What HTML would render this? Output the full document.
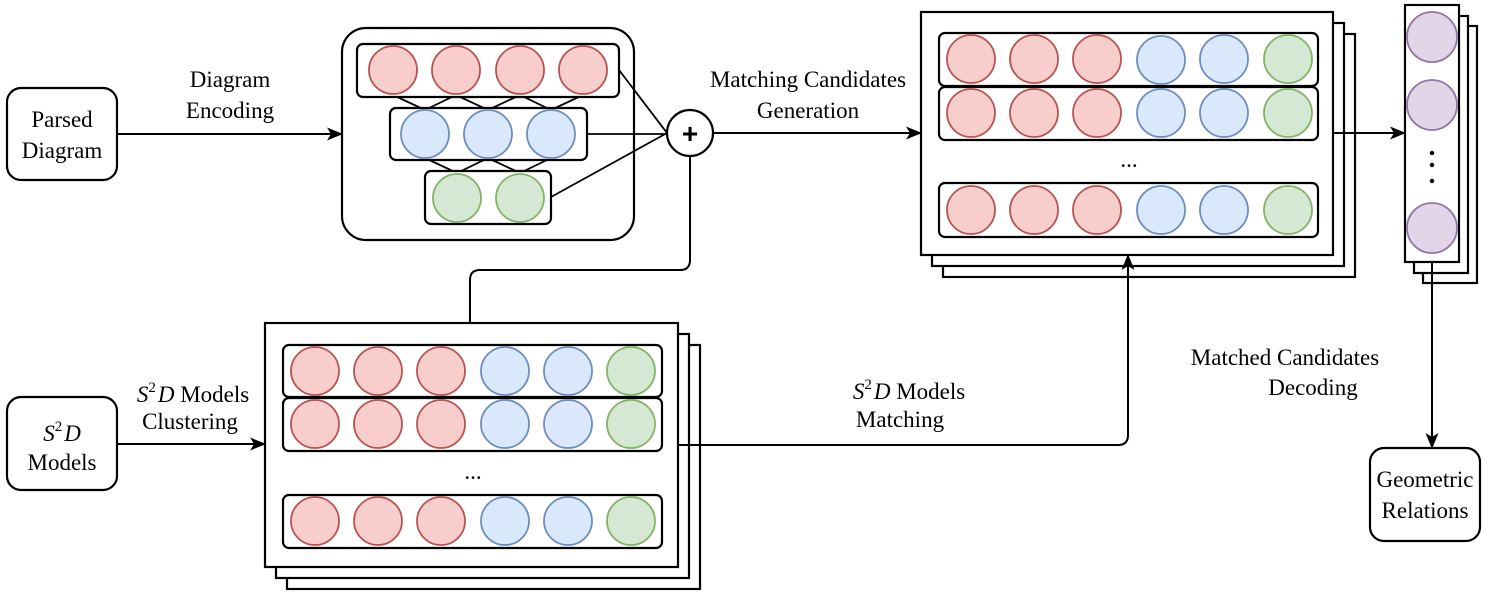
<!DOCTYPE html>
<html><head><meta charset="utf-8"><style>
html,body{margin:0;padding:0;background:#fff;width:1500px;height:595px;overflow:hidden}
text{font-family:"Liberation Serif",serif;font-size:23px;fill:#000}
.r{fill:#f8cecc;stroke:#b85450;stroke-width:1.8}
.b{fill:#dae8fc;stroke:#6c8ebf;stroke-width:1.8}
.g{fill:#d5e8d4;stroke:#82b366;stroke-width:1.8}
.p{fill:#e1d5e7;stroke:#9673a6;stroke-width:1.8}
.bx{fill:#fff;stroke:#000;stroke-width:2.2}
.ln{fill:none;stroke:#000;stroke-width:2}
</style></head><body>
<svg width="1500" height="595" viewBox="0 0 1500 595" xmlns="http://www.w3.org/2000/svg">
<defs><marker id="a" markerWidth="16" markerHeight="13" refX="15" refY="6.5" orient="auto" markerUnits="userSpaceOnUse"><path d="M0,0 L16,6.5 L0,13 L4,6.5 z" fill="#000"/></marker></defs>

<rect x="7" y="88" width="110" height="92" rx="14" class="bx"/>
<text x="62" y="127" text-anchor="middle">Parsed</text>
<text x="62" y="158" text-anchor="middle">Diagram</text>
<line x1="117" y1="134" x2="342" y2="134" class="ln" marker-end="url(#a)"/>
<text x="230" y="87" text-anchor="middle">Diagram</text>
<text x="230" y="118" text-anchor="middle">Encoding</text>

<rect x="342" y="28" width="292" height="212" rx="24" class="bx"/>
<g class="ln" style="stroke-width:1.8">
<path d="M393,95 L425,110 L456,95 L488,110 L520,95 L551,110 L583,95"/>
<path d="M425,158 L457,173 L488,158 L520,173 L551,158"/>
<path d="M619,70 L667,133 M587,134 L667,134 M551,197 L667,133"/>
</g>
<rect x="357" y="44" width="262" height="53" rx="6" class="bx"/>
<circle cx="393" cy="70" r="24" class="r"/><circle cx="456" cy="70" r="24" class="r"/><circle cx="520" cy="70" r="24" class="r"/><circle cx="583" cy="70" r="24" class="r"/>
<rect x="390" y="108" width="197" height="52" rx="6" class="bx"/>
<circle cx="425" cy="134" r="24" class="b"/><circle cx="488" cy="134" r="24" class="b"/><circle cx="551" cy="134" r="24" class="b"/>
<rect x="425" y="171" width="126" height="53" rx="6" class="bx"/>
<circle cx="457" cy="198" r="24" class="g"/><circle cx="520" cy="198" r="24" class="g"/>

<circle cx="690" cy="133" r="23" class="bx"/>
<text x="690" y="143" text-anchor="middle" style="font-family:'Liberation Sans',sans-serif;font-size:28px;font-weight:bold">+</text>
<line x1="713" y1="133" x2="921" y2="133" class="ln" marker-end="url(#a)"/>
<text x="808" y="87" text-anchor="middle">Matching Candidates</text>
<text x="808" y="118" text-anchor="middle">Generation</text>
<path d="M690,156 L690,260 Q690,270 680,270 L480,270 Q470,270 470,280 L470,323" class="ln"/>

<rect x="943" y="34" width="412" height="243" class="bx"/>
<rect x="932" y="23" width="412" height="243" class="bx"/>
<rect x="921" y="12" width="412" height="243" class="bx"/>
<rect x="939" y="33" width="379" height="53" rx="6" class="bx"/>
<rect x="939" y="87" width="379" height="53" rx="6" class="bx"/>
<rect x="939" y="183" width="379" height="54" rx="6" class="bx"/>
<circle cx="971" cy="59" r="24" class="r"/><circle cx="1034" cy="59" r="24" class="r"/><circle cx="1097" cy="59" r="24" class="r"/><circle cx="1161" cy="60" r="24" class="b"/><circle cx="1224" cy="59" r="24" class="b"/><circle cx="1288" cy="59" r="24" class="g"/>
<circle cx="971" cy="113" r="24" class="r"/><circle cx="1034" cy="113" r="24" class="r"/><circle cx="1097" cy="113" r="24" class="r"/><circle cx="1161" cy="113" r="24" class="b"/><circle cx="1224" cy="113" r="24" class="b"/><circle cx="1288" cy="113" r="24" class="g"/>
<circle cx="971" cy="210" r="24" class="r"/><circle cx="1034" cy="210" r="24" class="r"/><circle cx="1097" cy="210" r="24" class="r"/><circle cx="1161" cy="210" r="24" class="b"/><circle cx="1224" cy="210" r="24" class="b"/><circle cx="1288" cy="210" r="24" class="g"/>
<text x="1129" y="167" text-anchor="middle">...</text>
<line x1="1333" y1="133" x2="1405" y2="133" class="ln" marker-end="url(#a)"/>

<rect x="1423" y="26" width="54" height="257" class="bx"/>
<rect x="1414" y="16" width="54" height="257" class="bx"/>
<rect x="1405" y="5" width="54" height="257" class="bx"/>
<circle cx="1432" cy="37" r="25" class="p"/><circle cx="1432" cy="105" r="25" class="p"/><circle cx="1432" cy="228" r="25" class="p"/>
<circle cx="1432" cy="153" r="2.2" fill="#000"/><circle cx="1432" cy="165" r="2.2" fill="#000"/><circle cx="1432" cy="181" r="2.2" fill="#000"/>
<line x1="1432" y1="262" x2="1432" y2="448" class="ln" marker-end="url(#a)"/>
<text x="1285" y="365" text-anchor="middle">Matched Candidates</text>
<text x="1313" y="395" text-anchor="middle">Decoding</text>
<rect x="1370" y="448" width="110" height="93" rx="14" class="bx"/>
<text x="1425" y="487" text-anchor="middle">Geometric</text>
<text x="1425" y="518" text-anchor="middle">Relations</text>

<rect x="7" y="397" width="110" height="93" rx="14" class="bx"/>
<text x="62" y="441" text-anchor="middle"><tspan font-style="italic">S</tspan><tspan font-size="15" dy="-10">2</tspan><tspan font-style="italic" dy="10" dx="2">D</tspan></text>
<text x="62" y="470" text-anchor="middle">Models</text>
<line x1="117" y1="444" x2="265" y2="444" class="ln" marker-end="url(#a)"/>
<text x="193" y="402" text-anchor="middle"><tspan font-style="italic">S</tspan><tspan font-size="15" dy="-10">2</tspan><tspan font-style="italic" dy="10" dx="2">D</tspan> Models</text>
<text x="190" y="429" text-anchor="middle">Clustering</text>

<rect x="287" y="345" width="413" height="244" class="bx"/>
<rect x="276" y="334" width="413" height="244" class="bx"/>
<rect x="265" y="323" width="413" height="244" class="bx"/>
<rect x="283" y="345" width="379" height="52" rx="6" class="bx"/>
<rect x="283" y="398" width="379" height="53" rx="6" class="bx"/>
<rect x="283" y="495" width="379" height="53" rx="6" class="bx"/>
<circle cx="315" cy="371" r="24" class="r"/><circle cx="378" cy="371" r="24" class="r"/><circle cx="441" cy="371" r="24" class="r"/><circle cx="505" cy="371" r="24" class="b"/><circle cx="568" cy="371" r="24" class="b"/><circle cx="631" cy="371" r="24" class="g"/>
<circle cx="315" cy="424" r="24" class="r"/><circle cx="378" cy="424" r="24" class="r"/><circle cx="441" cy="424" r="24" class="r"/><circle cx="505" cy="424" r="24" class="b"/><circle cx="568" cy="424" r="24" class="b"/><circle cx="631" cy="424" r="24" class="g"/>
<circle cx="315" cy="521" r="24" class="r"/><circle cx="378" cy="521" r="24" class="r"/><circle cx="441" cy="521" r="24" class="r"/><circle cx="505" cy="521" r="24" class="b"/><circle cx="568" cy="521" r="24" class="b"/><circle cx="631" cy="521" r="24" class="g"/>
<text x="473" y="479" text-anchor="middle">...</text>

<path d="M678,445 L1118,445 Q1128,445 1128,435 L1128,255" class="ln" marker-end="url(#a)"/>
<text x="909" y="399" text-anchor="middle"><tspan font-style="italic">S</tspan><tspan font-size="15" dy="-10">2</tspan><tspan font-style="italic" dy="10" dx="2">D</tspan> Models</text>
<text x="900" y="427" text-anchor="middle">Matching</text>
</svg>
</body></html>
